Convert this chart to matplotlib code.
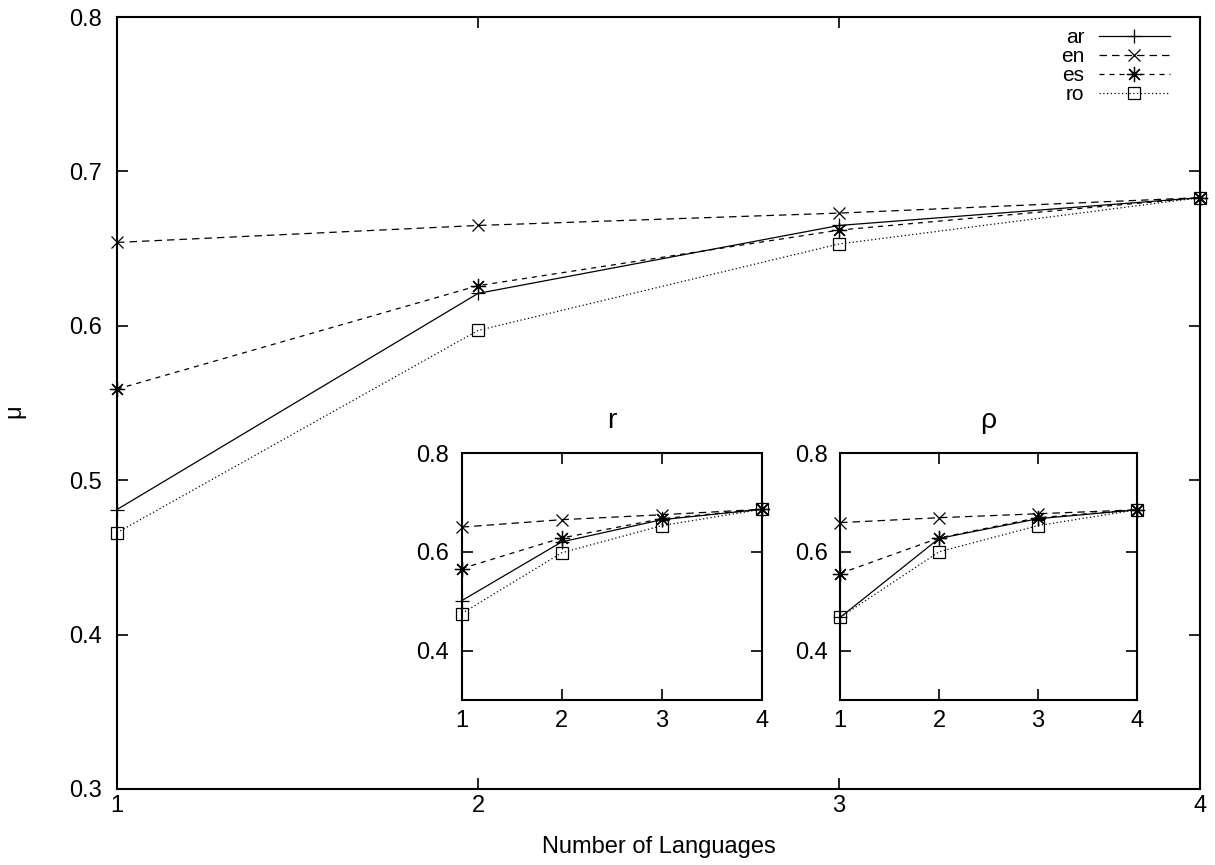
import matplotlib
matplotlib.use("Agg")
import matplotlib.pyplot as plt

plt.rcParams["font.family"] = ["Liberation Sans", "DejaVu Sans"]
plt.rcParams["font.size"] = 17

languages = [1, 2, 3, 4]
series_names = ["ar", "en", "es", "ro"]

# main plot (mu)
mu_ar = [0.481, 0.621, 0.665, 0.683]
mu_en = [0.654, 0.665, 0.673, 0.683]
mu_es = [0.559, 0.626, 0.662, 0.683]
mu_ro = [0.466, 0.597, 0.653, 0.683]

# inset r
r_ar = [0.501, 0.620, 0.665, 0.686]
r_en = [0.650, 0.665, 0.675, 0.686]
r_es = [0.566, 0.628, 0.667, 0.686]
r_ro = [0.475, 0.598, 0.653, 0.686]

# inset rho
rho_ar = [0.467, 0.627, 0.667, 0.685]
rho_en = [0.659, 0.669, 0.677, 0.685]
rho_es = [0.556, 0.628, 0.669, 0.685]
rho_ro = [0.467, 0.600, 0.653, 0.685]

styles = {
    "ar": dict(linestyle="-", marker="+", markersize=10),
    "en": dict(linestyle=(0, (6, 4)), marker="x", markersize=9),
    "es": dict(linestyle=(0, (4, 4)), marker=(8, 2, 0), markersize=11),
    "ro": dict(linestyle=(0, (1, 2)), marker="s", markersize=9,
               fillstyle="none"),
}


def draw(ax, data, yticks, xpad, ypad, label=True):
    for name, vals in zip(series_names, data):
        ax.plot(languages, vals, color="black", linewidth=0.9,
                markeredgewidth=0.9, label=name if label else None,
                clip_on=False, **styles[name])
    ax.set_xlim(1, 4)
    ax.set_ylim(0.3, 0.8)
    ax.set_xticks(languages)
    ax.set_yticks(yticks)
    ax.set_yticklabels(["%.1f" % v for v in yticks])
    ax.tick_params(direction="in", top=True, right=True, length=8,
                   width=1.2)
    ax.tick_params(axis="x", pad=xpad)
    ax.tick_params(axis="y", pad=ypad)
    for s in ax.spines.values():
        s.set_linewidth(1.5)


fig = plt.figure(figsize=(12.15, 8.65), dpi=100)
ax = fig.add_axes([0.0963, 0.0879, 0.8914, 0.8924])
draw(ax, [mu_ar, mu_en, mu_es, mu_ro],
     [0.3, 0.4, 0.5, 0.6, 0.7, 0.8], 4, 11)
ax.set_xlabel("Number of Languages")
ax.xaxis.set_label_coords(0.5, -0.061)
ax.set_ylabel("μ", rotation=90)
ax.yaxis.set_label_coords(-0.085, 0.49)
ax.legend(loc="upper right", bbox_to_anchor=(0.972, 0.986), frameon=False,
          markerfirst=False, fontsize=15, handlelength=3.4,
          handletextpad=0.7, labelspacing=0.0, borderaxespad=0,
          borderpad=0)

ax1 = fig.add_axes([0.380, 0.1908, 0.247, 0.2855])
draw(ax1, [r_ar, r_en, r_es, r_ro], [0.4, 0.6, 0.8], 7, 9, False)
ax1.set_title("r", pad=18)

ax2 = fig.add_axes([0.6914, 0.1908, 0.2444, 0.2855])
draw(ax2, [rho_ar, rho_en, rho_es, rho_ro], [0.4, 0.6, 0.8], 7, 9, False)
ax2.set_title("ρ", pad=18)

fig.savefig("out.png", dpi=100)
